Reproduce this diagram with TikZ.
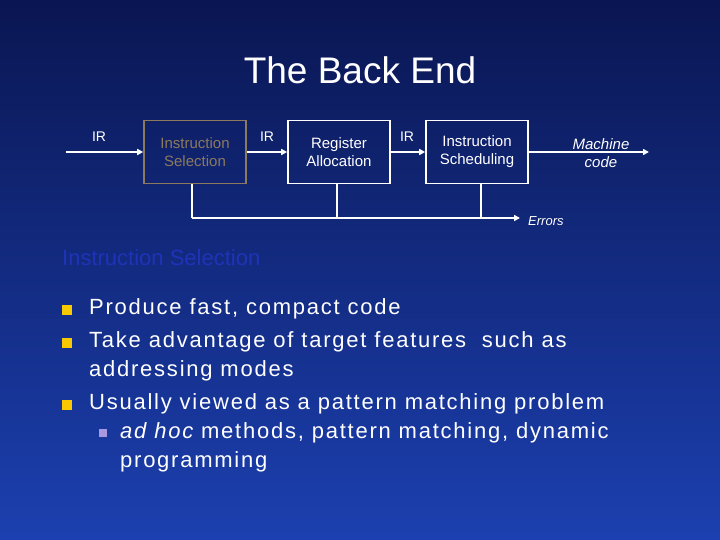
\documentclass[tikz,border=0pt]{standalone}
\usepackage{fontspec}
\setmainfont{Liberation Sans}
\newfontfamily\bodyf[LetterSpace=8]{Liberation Sans}
\usetikzlibrary{arrows.meta}
\definecolor{bgtop}{HTML}{0A1652}
\definecolor{bgbot}{HTML}{1C40B0}
\definecolor{headc}{HTML}{1F33B8}
\definecolor{selc}{HTML}{8C7A5E}
\definecolor{bulc}{HTML}{F8C800}
\definecolor{subc}{HTML}{A898E0}
\begin{document}
\begin{tikzpicture}[x=1pt,y=-1pt,
  blk/.style={draw=white,line width=1.6pt,minimum width=102pt,minimum height=63pt,text=white,font=\fontsize{15}{18}\selectfont,align=center,inner sep=0pt},
  lbl/.style={text=white,font=\fontsize{14}{16}\selectfont,inner sep=0pt},
  wire/.style={draw=white,line width=1.6pt},
  arr/.style={wire,-{Triangle[length=6pt,width=6pt]}},
  body/.style={text=white,anchor=west,inner sep=0pt,font=\bodyf\fontsize{22}{26}\selectfont},
  bul/.style={fill=bulc,minimum size=10pt,inner sep=0pt}]
\shade[top color=bgtop,bottom color=bgbot] (0,0) rectangle (720,540);
\useasboundingbox (0,0) rectangle (720,540);
\node[text=white,font=\fontsize{37}{42}\selectfont] (title) at (360,70) {The Back End};
\node[blk,draw=selc,text=selc] (b1) at (195,152) {Instruction\\Selection};
\node[blk] (b2) at (339,152) {Register\\Allocation};
\node[blk] (b3) at (477,152) {Instruction\\Scheduling};
\coordinate (in) at (66,152);
\coordinate (out) at (649,152);
\draw[arr] (in) -- (b1.west);
\draw[arr] (b1.east) -- (b2.west);
\draw[arr] (b2.east) -- (b3.west);
\draw[arr] (b3.east) -- (out);
\node[lbl] (ir1) at (99,137) {IR};
\node[lbl] (ir2) at (267,137) {IR};
\node[lbl] (ir3) at (407,137) {IR};
\node[lbl,font=\itshape\fontsize{15}{18}\selectfont,align=center] (mc) at (601,153) {Machine\\code};
\coordinate (c1) at (192,218);
\coordinate (c2) at (337,218);
\coordinate (c3) at (481,218);
\coordinate (eend) at (520,218);
\draw[wire] (b1.south -| c1) -- (c1);
\draw[wire] (b2.south -| c2) -- (c2);
\draw[wire] (b3.south -| c3) -- (c3);
\draw[arr] (c1) -- (eend);
\node[lbl,font=\itshape\fontsize{13}{15}\selectfont,anchor=west] (err) at (528,221) {Errors};
\node[text=headc,anchor=west,inner sep=0pt,font=\fontsize{22}{26}\selectfont] (head) at (62,258) {Instruction Selection};
\node[bul] (p1) at (67,310) {};
\node[body] (t1) at (89,309) {Produce fast, compact code};
\node[bul] (p2) at (67,343) {};
\node[body] (t2) at (89,342) {Take advantage of target features\ \ such as};
\node[body] (t2b) at (89,371) {addressing modes};
\node[bul] (p3) at (67,405) {};
\node[body] (t3) at (89,404) {Usually viewed as a pattern matching problem};
\node[bul,fill=subc,minimum size=8pt] (p4) at (103,433) {};
\node[body] (t4) at (120,433) {\itshape ad hoc\upshape\ methods, pattern matching, dynamic};
\node[body] (t4b) at (120,462) {programming};
\end{tikzpicture}
\end{document}
